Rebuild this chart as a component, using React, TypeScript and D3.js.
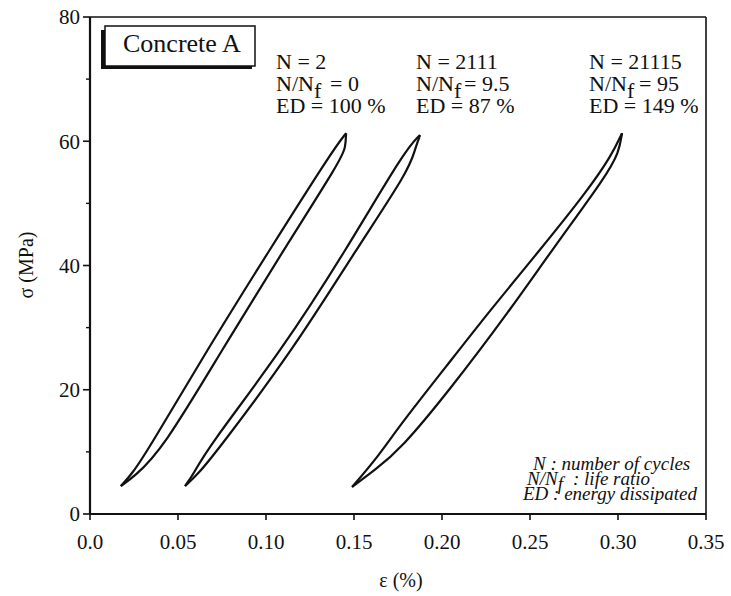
import React from "react";
import * as d3 from "d3";

// ---- data ----
const xTicks = [0, 0.05, 0.1, 0.15, 0.2, 0.25, 0.3, 0.35];
const xTickLabels = ["0.0", "0.05", "0.10", "0.15", "0.20", "0.25", "0.30", "0.35"];
const yTicks = [0, 20, 40, 60, 80];
const yMinorTicks = [10, 30, 50, 70];

// strain (%), stress (MPa)
const loop1Loading: [number, number][] = [
  [0.0175, 4.5], [0.024, 6.5], [0.033, 10.3], [0.0665, 26.4], [0.102, 42.5], [0.138, 58.6], [0.1455, 61.3],
];
const loop1Unloading: [number, number][] = [
  [0.1455, 61.3], [0.1452, 59.0], [0.1425, 57.0], [0.11, 42.5], [0.075, 26.4], [0.041, 10.3], [0.025, 6.0], [0.0175, 4.5],
];
const loop2Loading: [number, number][] = [
  [0.054, 4.5], [0.059, 6.5], [0.066, 10.3], [0.1091, 26.4], [0.1455, 42.5], [0.179, 58.6], [0.1875, 61.0],
];
const loop2Unloading: [number, number][] = [
  [0.1875, 61.0], [0.1845, 58.6], [0.1815, 55.5], [0.1511, 42.5], [0.1153, 26.4], [0.0727, 10.3], [0.061, 6.3], [0.054, 4.5],
];
const loop3Loading: [number, number][] = [
  [0.1489, 4.35], [0.1636, 9.2], [0.1761, 14.3], [0.2017, 23.5], [0.2273, 32.8], [0.2557, 42.5], [0.283, 52.15], [0.2965, 57.8], [0.3023, 61.3],
];
const loop3Unloading: [number, number][] = [
  [0.3023, 61.3], [0.3005, 58.2], [0.2935, 54.5], [0.2625, 42.5], [0.2386, 32.8], [0.2045, 20.0], [0.1761, 10.3], [0.1619, 7.1], [0.1489, 4.35],
];
const branches = [loop1Loading, loop1Unloading, loop2Loading, loop2Unloading, loop3Loading, loop3Unloading];

const cycleLabels = ["N = 2", "N = 2111", "N = 21115"];
const lifeRatios = ["= 0", "= 9.5", "= 95"];
const energyLabels = ["ED = 100 %", "ED = 87 %", "ED = 149 %"];

// ---- layout ----
const W = 731, H = 596;
const X0 = 90, X1 = 706, Y0 = 514, Y1 = 17;
const colX = [276, 416, 589];
const eqX = [330, 464, 639];
const serif = '"Liberation Serif", "Times New Roman", Times, serif';

export default function App() {
  const x = d3.scaleLinear().domain([0, 0.35]).range([X0, X1]);
  const y = d3.scaleLinear().domain([0, 80]).range([Y0, Y1]);
  const line = d3
    .line<[number, number]>()
    .x((d) => x(d[0]))
    .y((d) => y(d[1]))
    .curve(d3.curveBasis);

  const ts: React.CSSProperties = { fontFamily: serif };

  return (
    <svg
      width={W}
      height={H}
      viewBox={`0 0 ${W} ${H}`}
      style={{ position: "absolute", left: 0, top: 0, display: "block", background: "#fff", fontFamily: serif }}
    >
      <rect x={0} y={0} width={W} height={H} fill="#fff" />

      {/* frame */}
      <line x1={X0} y1={Y1} x2={X1} y2={Y1} stroke="#111" strokeWidth={1.6} />
      <line x1={X1} y1={Y1} x2={X1} y2={Y0} stroke="#111" strokeWidth={1.6} />
      <line x1={X0} y1={Y0} x2={X1} y2={Y0} stroke="#111" strokeWidth={2.2} />
      <line x1={X0} y1={Y1} x2={X0} y2={Y0} stroke="#111" strokeWidth={2.2} />

      {/* x ticks */}
      {xTicks.map((t, i) => (
        <g key={"xt" + i}>
          <line x1={x(t)} x2={x(t)} y1={Y0} y2={Y0 + 6} stroke="#111" strokeWidth={1.6} />
          <text x={x(t)} y={549} textAnchor="middle" fontSize={21} fill="#111" style={ts}>
            {xTickLabels[i]}
          </text>
        </g>
      ))}

      {/* y ticks */}
      {yTicks.map((t, i) => (
        <g key={"yt" + i}>
          <line x1={X0 - 7} x2={X0} y1={y(t)} y2={y(t)} stroke="#111" strokeWidth={1.6} />
          <text x={80} y={y(t)} dy="0.35em" textAnchor="end" fontSize={21} fill="#111" style={ts}>
            {t}
          </text>
        </g>
      ))}
      {yMinorTicks.map((t, i) => (
        <line key={"ym" + i} x1={X0 - 4} x2={X0} y1={y(t)} y2={y(t)} stroke="#111" strokeWidth={1.4} />
      ))}

      {/* axis labels */}
      <text x={401} y={587} textAnchor="middle" fontSize={20} fill="#111" style={ts}>
        ε (%)
      </text>
      <text transform="translate(33,265) rotate(-90)" textAnchor="middle" fontSize={20} fill="#111" style={ts}>
        σ (MPa)
      </text>

      {/* hysteresis loops */}
      {branches.map((b, i) => (
        <path key={"br" + i} d={line(b) || ""} fill="none" stroke="#111" strokeWidth={2.2} strokeLinejoin="round" />
      ))}

      {/* Concrete A box */}
      <rect x={101} y={30} width={151} height={39} fill="#111" />
      <rect x={105} y={26} width={150} height={40} fill="#fff" stroke="#111" strokeWidth={1.5} />
      <text x={123} y={52} fontSize={26} fill="#111" style={ts}>
        Concrete A
      </text>

      {/* annotations */}
      {colX.map((cx, i) => (
        <g key={"ann" + i} fontSize={22} fill="#111" style={ts}>
          <text x={cx} y={69} style={ts}>{cycleLabels[i]}</text>
          <text x={cx} y={91} style={ts}>
            N/N
            <tspan dy={7}>f</tspan>
            <tspan x={eqX[i]} dy={-7}>
              {lifeRatios[i]}
            </tspan>
          </text>
          <text x={cx} y={113} style={ts}>{energyLabels[i]}</text>
        </g>
      ))}

      {/* legend */}
      <g fontSize={19} fontStyle="italic" fill="#111" style={ts}>
        <text x={533} y={470} style={ts}>N : number of cycles</text>
        <text x={527} y={485} style={ts}>
          N/N
          <tspan dy={5}>f</tspan>
          <tspan x={573} dy={-5}>: life ratio</tspan>
        </text>
        <text x={523} y={500} style={ts}>ED : energy dissipated</text>
      </g>
    </svg>
  );
}
